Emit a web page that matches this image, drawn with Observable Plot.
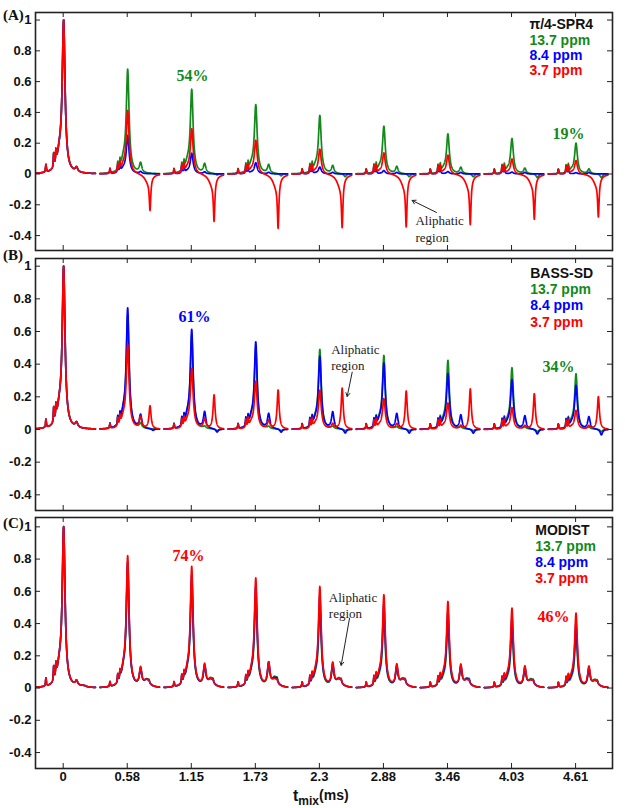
<!DOCTYPE html>
<html><head><meta charset="utf-8">
<script src="https://cdn.jsdelivr.net/npm/d3@7"></script>
<script src="https://cdn.jsdelivr.net/npm/@observablehq/plot@0.6"></script>
<style>
body{margin:0;background:#fff;}
#wrap{position:relative;width:625px;height:808px;overflow:hidden;font-family:Arial,"Liberation Sans",sans-serif;}
.panel{position:absolute;left:0;}
.plabel{position:absolute;left:3px;font:bold 15px "Liberation Serif","Times New Roman",serif;color:#111;}
#xtitle{position:absolute;left:293px;top:788px;font-weight:bold;color:#111;white-space:nowrap;line-height:15px;}
</style></head><body><div id="wrap"></div>
<script>
// ---------- data ----------
const mixTimes = [0, 0.576, 1.152, 1.728, 2.304, 2.88, 3.456, 4.032, 4.608];
const xTickLabels = ["0", "0.58", "1.15", "1.73", "2.3", "2.88", "3.46", "4.03", "4.61"];
const yTicks = [-0.4, -0.2, 0, 0.2, 0.4, 0.6, 0.8, 1];
const yTickLabels = ["-0.4", "-0.2", "0", "0.2", "0.4", "0.6", "0.8", "1"];
const seriesNames = ["13.7 ppm", "8.4 ppm", "3.7 ppm"];
const seriesColors = ["#12891a", "#0000ff", "#ff0000"];
const methods = ["π/4-SPR4", "BASS-SD", "MODIST"];
const panelLetters = ["(A)", "(B)", "(C)"];

// small pre-peak spikes (heights), first slice / later slices
const spikesFirst = [0.05, 0.09, 0.08];
const spikesOther = [0.03, 0.05, 0.05];

// (A) pi/4-SPR4 : main peak heights at each mixing time
const spr4Green = [1, 0.68, 0.55, 0.45, 0.38, 0.31, 0.26, 0.23, 0.2];
const spr4Blue  = [1, 0.25, 0.135, 0.073, 0.045, 0.022, 0.015, 0.012, 0.008];
const spr4Red   = [1, 0.415, 0.297, 0.222, 0.164, 0.14, 0.125, 0.1, 0.09];
// second site (~+0.12 ms)
const spr4Green2 = [0.03, 0.065, 0.06, 0.055, 0.05, 0.045, 0.04, 0.035, 0.03];
const spr4Blue2  = [0.03, 0.012, 0.012, 0.01, 0.01, 0.01, 0.01, 0.01, 0.01];
const spr4Red2   = [0.03, 0, 0, 0, 0, 0, 0, 0, 0];
// aliphatic region (~+0.2 ms)
const spr4Green3 = [0, 0, -0.01, -0.015, -0.02, -0.02, -0.02, -0.025, -0.025];
const spr4Blue3  = [0, 0, 0, 0, 0, 0, 0, 0, 0];
const spr4Red3   = [0, -0.24, -0.31, -0.355, -0.35, -0.345, -0.33, -0.295, -0.28];

// (B) BASS-SD
const bassGreen = [1, 0.7, 0.58, 0.5, 0.49, 0.453, 0.423, 0.378, 0.341];
const bassBlue  = [1, 0.743, 0.612, 0.535, 0.447, 0.406, 0.341, 0.304, 0.269];
const bassRed   = [1, 0.519, 0.372, 0.294, 0.239, 0.188, 0.161, 0.133, 0.116];
const bassGreen2 = [0.03, 0.03, 0.012, 0.012, 0.012, 0.01, 0.01, 0.01, 0.01];
const bassBlue2  = [0.03, 0.081, 0.1, 0.09, 0.102, 0.092, 0.085, 0.08, 0.075];
const bassRed2   = [0.03, 0.07, 0.06, 0.05, 0.03, 0.03, 0.02, 0.02, 0.02];
const bassGreen3 = [0, 0, -0.01, -0.01, -0.01, -0.01, -0.01, -0.015, -0.015];
const bassBlue3  = [0, -0.01, -0.02, -0.02, -0.025, -0.025, -0.025, -0.03, -0.035];
const bassRed3   = [0, 0.141, 0.208, 0.239, 0.251, 0.234, 0.247, 0.218, 0.2];

// (C) MODIST
const modGreen = [1, 0.75, 0.66, 0.57, 0.493, 0.441, 0.396, 0.354, 0.327];
const modBlue  = [1, 0.78, 0.7, 0.63, 0.57, 0.52, 0.47, 0.43, 0.4];
const modRed   = [1, 0.818, 0.752, 0.68, 0.627, 0.576, 0.534, 0.493, 0.462];
const modGreen2 = [0.03, 0.1, 0.12, 0.12, 0.12, 0.11, 0.11, 0.1, 0.1];
const modBlue2  = [0.03, 0.1, 0.12, 0.14, 0.13, 0.12, 0.12, 0.11, 0.11];
const modRed2   = [0.03, 0.11, 0.13, 0.14, 0.14, 0.13, 0.13, 0.12, 0.12];
const modGreen3 = [0.01, 0.06, 0.07, 0.08, 0.07, 0.07, 0.07, 0.065, 0.06];
const modBlue3  = [0.01, 0.055, 0.06, 0.07, 0.06, 0.06, 0.06, 0.055, 0.05];
const modRed3   = [0.01, 0.055, 0.06, 0.06, 0.06, 0.06, 0.055, 0.055, 0.05];

// ---------- line shapes ----------
const lor = (x, c, w) => 1 / (1 + ((x - c) / w) ** 2);
const mainShapeRaw = x => lor(x, 0.004, 0.015) + 0.1 * lor(x, -0.035, 0.025);
const mainNorm = mainShapeRaw(0.004);
const shapes = {
  dip: x => (0.8 * lor(x, 0.205, 0.008) + 0.2 * lor(x, 0.185, 0.035)) / (0.8 + 0.2 * lor(0.205, 0.185, 0.035)),
  peak: x => lor(x, 0.205, 0.011),
  late: x => lor(x, 0.232, 0.013),
  plateau: x => 0.75 * lor(x, 0.175, 0.03) + 0.25 * lor(x, 0.195, 0.007),
  none: x => 0
};

function buildTrace(main, site2, site3, shape3) {
  const pts = [];
  mixTimes.forEach((t0, i) => {
    const sp = i === 0 ? spikesFirst : spikesOther;
    for (let k = 0; k <= 535; k++) {
      const dx = -0.245 + k * 0.001;
      const y = main[i] * mainShapeRaw(dx) / mainNorm
        + sp[0] * lor(dx, -0.155, 0.004) + sp[1] * lor(dx, -0.085, 0.004) + sp[2] * lor(dx, -0.065, 0.004)
        + site2[i] * lor(dx, 0.12, 0.013)
        + site3[i] * shape3(dx);
      pts.push({seg: i, x: t0 + dx, y});
    }
  });
  return pts;
}

const panels = [
  {
    top: 0, mt: 12, fh: 238, mb: 6, ydom: [-0.497, 1.049],
    traces: [
      buildTrace(spr4Green, spr4Green2, spr4Green3, shapes.late),
      buildTrace(spr4Blue, spr4Blue2, spr4Blue3, shapes.none),
      buildTrace(spr4Red, spr4Red2, spr4Red3, shapes.dip)
    ],
    legX: 4.193, legY: [0.971, 0.867, 0.769, 0.672],
    pct: [{t: "54%", x: 1.163, y: 0.64, c: 0}, {t: "19%", x: 4.544, y: 0.263, c: 0}],
    ali: {x: 3.168, y: [-0.306, -0.414], a: [3.357, -0.25, 3.138, -0.172]},
    letterTop: 7
  },
  {
    top: 252, mt: 6, fh: 252, mb: 6, ydom: [-0.496, 1.047],
    traces: [
      buildTrace(bassGreen, bassGreen2, bassGreen3, shapes.late),
      buildTrace(bassBlue, bassBlue2, bassBlue3, shapes.late),
      buildTrace(bassRed, bassRed2, bassRed3, shapes.peak)
    ],
    legX: 4.2, legY: [0.957, 0.855, 0.759, 0.655],
    pct: [{t: "61%", x: 1.18, y: 0.692, c: 1}, {t: "34%", x: 4.454, y: 0.381, c: 0}],
    ali: {x: 2.41, y: [0.49, 0.388], a: [2.599, 0.351, 2.554, 0.202]},
    letterTop: 247
  },
  {
    top: 511, mt: 6, fh: 251, mb: 38, ydom: [-0.499, 1.058],
    traces: [
      buildTrace(modGreen, modGreen2, modGreen3, shapes.plateau),
      buildTrace(modBlue, modBlue2, modBlue3, shapes.plateau),
      buildTrace(modRed, modRed2, modRed3, shapes.plateau)
    ],
    legX: 4.245, legY: [0.98, 0.88, 0.78, 0.68],
    pct: [{t: "74%", x: 1.127, y: 0.818, c: 2}, {t: "46%", x: 4.409, y: 0.439, c: 2}],
    ali: {x: 2.389, y: [0.561, 0.462], a: [2.575, 0.433, 2.5, 0.141]},
    letterTop: 515,
    xaxis: true
  }
];

const W = 625, ML = 35, MR = 13, PW = W - ML - MR;
const wrap = document.getElementById("wrap");

panels.forEach((p, pi) => {
  const H = p.mt + p.fh + p.mb;
  const marks = [];
  p.traces.forEach((tr, si) => {
    marks.push(Plot.line(tr, {x: "x", y: "y", z: "seg", stroke: seriesColors[si], strokeWidth: 1.7, curve: "linear"}));
  });
  // inward ticks on all four sides
  marks.push(Plot.tickX(mixTimes, {x: d => d, insetBottom: p.fh - 5, stroke: "#222", strokeWidth: 1}));
  marks.push(Plot.tickX(mixTimes, {x: d => d, insetTop: p.fh - 5, stroke: "#222", strokeWidth: 1}));
  marks.push(Plot.tickY(yTicks, {y: d => d, insetLeft: PW - 5, stroke: "#222", strokeWidth: 1}));
  marks.push(Plot.tickY(yTicks, {y: d => d, insetRight: PW - 5, stroke: "#222", strokeWidth: 1}));
  marks.push(Plot.frame({stroke: "#222", strokeWidth: 1.6}));
  marks.push(Plot.axisY(yTicks, {tickSize: 0, tickPadding: 4, tickFormat: (d, i) => yTickLabels[i], fontSize: 13, fontWeight: "bold", fill: "#111", label: null}));
  if (p.xaxis) {
    marks.push(Plot.axisX(mixTimes, {tickSize: 0, tickPadding: 3, tickFormat: (d, i) => xTickLabels[i], fontSize: 13, fontWeight: "bold", fill: "#111", label: null}));
  }
  // legend
  marks.push(Plot.text([methods[pi]], {x: p.legX, y: p.legY[0], text: d => d, textAnchor: "start", fill: "#111", fontSize: 14, fontWeight: "bold", fontFamily: "Arial, 'Liberation Sans', sans-serif"}));
  seriesNames.forEach((s, si) => {
    marks.push(Plot.text([s], {x: p.legX, y: p.legY[si + 1], text: d => d, textAnchor: "start", fill: seriesColors[si], fontSize: 14, fontWeight: "bold", fontFamily: "Arial, 'Liberation Sans', sans-serif"}));
  });
  // percentages
  p.pct.forEach(q => {
    marks.push(Plot.text([q.t], {x: q.x, y: q.y, text: d => d, fill: seriesColors[q.c], fontSize: 16, fontWeight: "bold", fontFamily: "'Liberation Serif', 'Times New Roman', serif"}));
  });
  // aliphatic annotation
  marks.push(Plot.text(["Aliphatic"], {x: p.ali.x, y: p.ali.y[0], text: d => d, textAnchor: "start", fill: "#222", fontSize: 13, fontFamily: "'Liberation Serif', 'Times New Roman', serif"}));
  marks.push(Plot.text(["region"], {x: p.ali.x, y: p.ali.y[1], text: d => d, textAnchor: "start", fill: "#222", fontSize: 13, fontFamily: "'Liberation Serif', 'Times New Roman', serif"}));
  marks.push(Plot.arrow([0], {x1: p.ali.a[0], y1: p.ali.a[1], x2: p.ali.a[2], y2: p.ali.a[3], stroke: "#222", strokeWidth: 1, headLength: 6}));

  const opts = {
    width: W, height: H,
    marginLeft: ML, marginRight: MR, marginTop: p.mt, marginBottom: p.mb,
    x: {domain: [-0.249, 4.94]},
    y: {domain: p.ydom},
    style: {fontFamily: "Arial, 'Liberation Sans', sans-serif", background: "transparent", overflow: "visible", color: "#111"},
    marks
  };
  if (!p.xaxis) opts.x.axis = null;
  const svg = Plot.plot(opts);
  const div = document.createElement("div");
  div.className = "panel";
  div.style.top = p.top + "px";
  div.appendChild(svg);
  wrap.appendChild(div);

  const lab = document.createElement("div");
  lab.className = "plabel";
  lab.style.top = p.letterTop + "px";
  lab.textContent = panelLetters[pi];
  wrap.appendChild(lab);
});

const xt = document.createElement("div");
xt.id = "xtitle";
xt.innerHTML = '<span style="font-size:16px">t</span><span style="font-size:12px;position:relative;top:4px">mix</span><span style="font-size:14px;position:relative;top:-1px">(ms)</span>';
wrap.appendChild(xt);
</script></body></html>
